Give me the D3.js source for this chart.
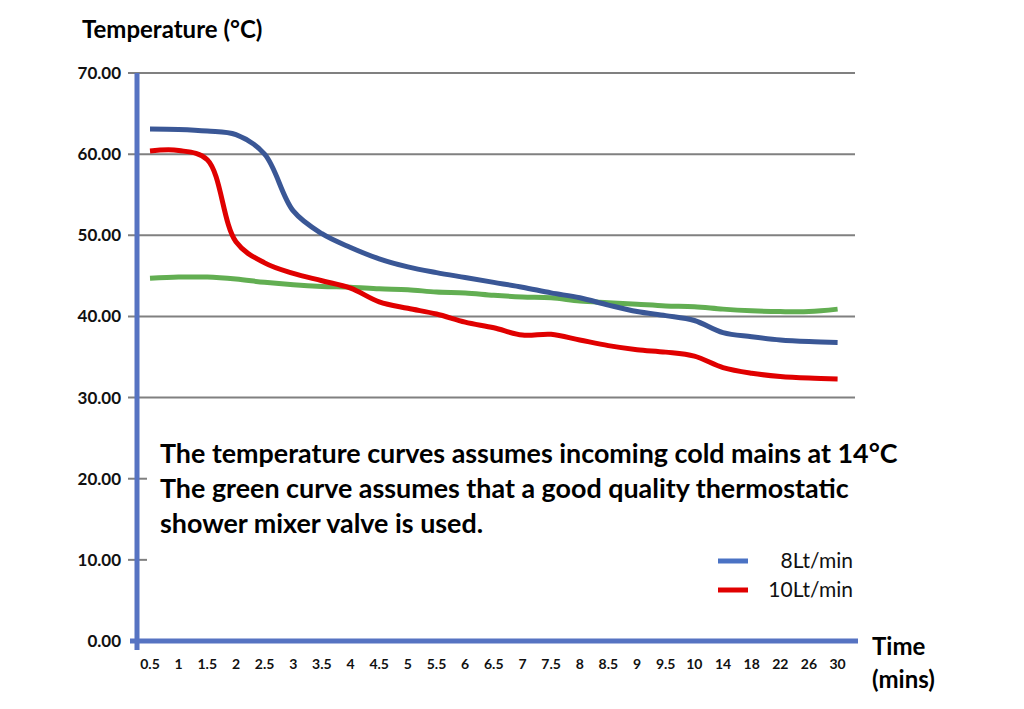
<!DOCTYPE html>
<html><head><meta charset="utf-8">
<script src="https://cdn.jsdelivr.net/npm/d3@7"></script>
<style>body{margin:0;background:#fff;}svg{display:block;font-family:Lato,"Open Sans",sans-serif;}</style>
</head><body><svg id="c" width="1024" height="709"></svg>
<script>
const categories = ["0.5","1","1.5","2","2.5","3","3.5","4","4.5","5","5.5","6","6.5","7","7.5","8","8.5","9","9.5","10","14","18","22","26","30"];
const flow8 = [63.1,63.05,62.85,62.4,60.0,53.0,50.2,48.5,47.1,46.1,45.4,44.8,44.2,43.6,42.9,42.3,41.4,40.6,40.1,39.5,38.0,37.5,37.1,36.9,36.8];
const flow10 = [60.4,60.45,59.3,49.2,46.6,45.3,44.4,43.5,41.8,41.0,40.3,39.3,38.6,37.7,37.8,37.1,36.4,35.9,35.6,35.1,33.7,33.0,32.6,32.4,32.3];
const mixer = [44.7,44.85,44.85,44.6,44.2,43.9,43.7,43.6,43.4,43.3,43.0,42.9,42.6,42.4,42.3,41.9,41.7,41.5,41.3,41.2,40.9,40.7,40.6,40.6,40.9];
const yTicks = [0,10,20,30,40,50,60,70];
const gridTicks = [30,40,50,60,70];
const legendItems = [{label:"8Lt/min", color:"#4A72C4"},{label:"10Lt/min", color:"#E00000"}];
const noteLines = ["The temperature curves assumes incoming cold mains at 14°C","The green curve assumes that a good quality thermostatic","shower mixer valve is used."];

const svg = d3.select("#c");
const x = d3.scalePoint().domain(categories).range([150, 837.6]);
const y = d3.scaleLinear().domain([0,70]).range([641, 73]);
const axisBlue = "#5673C2";

// gridlines
svg.append("g").selectAll("line").data(gridTicks).join("line")
  .attr("x1",128).attr("x2",855).attr("y1",d=>y(d)).attr("y2",d=>y(d))
  .attr("stroke","#808080").attr("stroke-width",2);
svg.append("g").selectAll("line").data([10,20]).join("line")
  .attr("x1",128).attr("x2",147).attr("y1",d=>y(d)).attr("y2",d=>y(d))
  .attr("stroke","#808080").attr("stroke-width",2);

// y labels
svg.append("g").selectAll("text").data(yTicks).join("text")
  .attr("x",121).attr("y",d=>y(d)+6).attr("text-anchor","end")
  .attr("font-size",17).attr("font-weight","bold").attr("fill","#111")
  .text(d=>d3.format(".2f")(d));

// curves
const line = d3.line().x((d,i)=>x(categories[i])).y(d=>y(d)).curve(d3.curveCatmullRom.alpha(0.5));
[[mixer,"#62AE52"],[flow10,"#E00000"],[flow8,"#3A5796"]].forEach(([arr,col])=>{
  svg.append("path").datum(arr).attr("d",line).attr("fill","none")
    .attr("stroke",col).attr("stroke-width",5).attr("stroke-linejoin","round");
});

// white box for the note
svg.append("rect").attr("x",148).attr("y",410).attr("width",720).attr("height",222).attr("fill","#fff");

// axes
svg.append("line").attr("x1",137).attr("x2",137).attr("y1",73).attr("y2",650)
  .attr("stroke",axisBlue).attr("stroke-width",5);
svg.append("line").attr("x1",130).attr("x2",858).attr("y1",641).attr("y2",641)
  .attr("stroke",axisBlue).attr("stroke-width",5);

// x labels
svg.append("g").selectAll("text").data(categories).join("text")
  .attr("x",d=>x(d)).attr("y",669).attr("text-anchor","middle")
  .attr("font-size",14).attr("font-weight","bold").attr("fill","#111").text(d=>d);

// titles
svg.append("text").attr("x",82).attr("y",38).attr("font-size",24).attr("font-weight","bold").attr("fill","#000").text("Temperature (°C)");
svg.append("text").attr("x",872).attr("y",655).attr("font-size",24).attr("font-weight","bold").attr("fill","#000").text("Time");
svg.append("text").attr("x",872).attr("y",688).attr("font-size",24).attr("font-weight","bold").attr("fill","#000").text("(mins)");

// note
const note = svg.append("g");
noteLines.forEach((t,i)=>{
  note.append("text").attr("x",160).attr("y",463+i*35).attr("font-size",24).attr("font-weight","bold").attr("fill","#000").text(t);
});
const w0 = note.select("text").node().getComputedTextLength();
const sc = 738 / w0;
note.selectAll("text").attr("font-size",24*Math.min(sc,1.2));

// legend
const lg = svg.append("g");
legendItems.forEach((d,i)=>{
  lg.append("line").attr("x1",718).attr("x2",748).attr("y1",561+i*29).attr("y2",561+i*29)
    .attr("stroke",d.color).attr("stroke-width",5);
  lg.append("text").attr("x",853).attr("y",568+i*29).attr("text-anchor","end")
    .attr("font-size",21).attr("fill","#111").text(d.label);
});
</script></body></html>
